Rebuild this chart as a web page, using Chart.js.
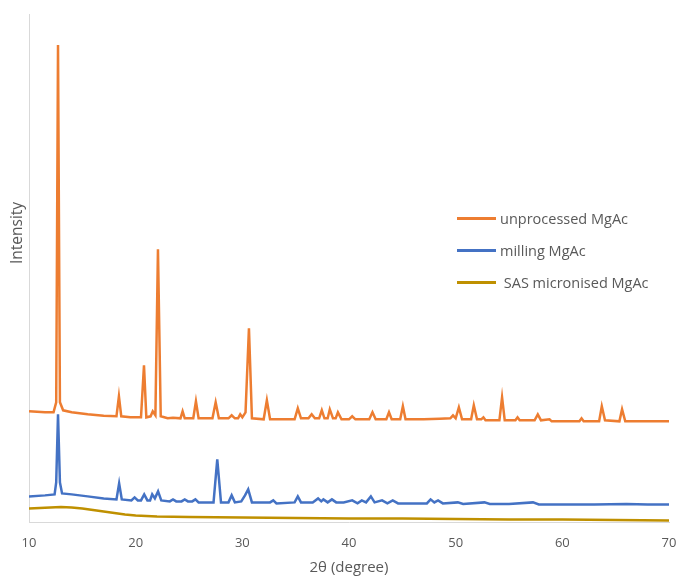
<!DOCTYPE html>
<html>
<head>
<meta charset="utf-8">
<script src="https://cdn.jsdelivr.net/npm/chart.js"></script>
<style>
  body { margin: 0; background: #ffffff; }
  #wrap { position: relative; width: 678px; height: 577px; }
  #legend { position: absolute; left: 457px; top: 202px; font-family: "Open Sans", sans-serif; font-size: 14.5px; color: #595959; }
  #legend .row { display: flex; align-items: center; height: 32px; }
  #legend .swatch { width: 39px; height: 3px; margin-right: 4px; }
</style>
</head>
<body>
<div id="wrap">
  <canvas id="chart"></canvas>
  <div id="legend"></div>
</div>
<script>
// 2theta positions and intensities (arbitrary units)
const unprocessedX = [10.0, 11.5, 12.3, 12.55, 12.72, 12.9, 13.2, 14.0, 15.5, 17.0, 18.2, 18.43, 18.65, 19.5, 20.5, 20.78, 21.0, 21.4, 21.6, 21.85, 22.09, 22.35, 23.0, 23.5, 24.2, 24.4, 24.6, 25.4, 25.65, 25.9, 27.2, 27.5, 27.8, 28.7, 29.0, 29.3, 29.6, 29.8, 30.0, 30.3, 30.62, 30.9, 32.0, 32.3, 32.6, 34.9, 35.2, 35.5, 36.2, 36.5, 36.8, 37.2, 37.45, 37.7, 38.0, 38.2, 38.5, 38.75, 38.96, 39.3, 40.0, 40.3, 40.6, 41.9, 42.2, 42.5, 43.5, 43.75, 44.0, 44.8, 45.05, 45.3, 47.0, 48.5, 49.5, 49.75, 50.0, 50.3, 50.6, 51.45, 51.7, 52.0, 52.4, 52.6, 52.8, 54.1, 54.35, 54.6, 55.6, 55.8, 56.0, 57.4, 57.7, 58.0, 58.8, 59.0, 61.6, 61.8, 62.0, 63.45, 63.7, 64.0, 65.35, 65.6, 65.9, 70.0];
const unprocessedY = [111, 110, 110, 120, 477, 120, 112, 110, 108, 106.5, 106, 126, 106, 105, 105, 157, 105, 106, 111, 107, 273, 106, 104, 104.5, 104, 111, 104, 104, 121, 104, 104, 120, 104, 104, 107, 104, 104, 108, 105, 110, 194, 104, 103, 122, 103, 103, 114, 104, 104, 108, 104, 104, 112, 104, 104, 113, 104, 104, 110, 103, 103, 106, 103, 103, 110, 103, 103, 110, 103, 103, 116, 103, 103, 103.5, 104, 107, 104, 115, 103, 103, 117, 103, 103, 105, 102, 102, 125, 102, 102, 105, 102, 102, 108, 102, 103, 101, 101, 104, 101, 101, 116, 102, 101, 113, 101, 101];

const millingX = [10.0, 11.5, 12.4, 12.55, 12.72, 12.9, 13.1, 14.0, 15.5, 17.0, 18.2, 18.45, 18.7, 19.6, 19.9, 20.2, 20.5, 20.8, 21.1, 21.35, 21.55, 21.8, 22.1, 22.4, 23.2, 23.5, 23.8, 24.3, 24.6, 24.9, 25.3, 25.6, 25.9, 27.3, 27.65, 28.0, 28.7, 29.0, 29.3, 29.9, 30.25, 30.55, 30.9, 32.6, 32.9, 33.2, 34.9, 35.2, 35.5, 36.6, 37.1, 37.4, 37.6, 38.0, 38.4, 38.8, 39.5, 40.3, 40.8, 41.2, 41.6, 42.05, 42.4, 43.1, 43.6, 44.1, 44.6, 46.0, 47.3, 47.65, 48.0, 48.35, 48.8, 50.2, 50.7, 52.7, 53.2, 55.0, 57.25, 57.8, 60.0, 63.0, 66.0, 68.0, 70.0];
const millingY = [26, 27, 28, 40, 108, 40, 29, 28, 26, 24, 23, 39, 23, 22, 25, 22, 22, 28, 22, 22, 28, 24, 31, 22, 21, 23, 21, 21, 23, 21, 21, 23, 20, 20, 63, 20, 20, 27, 20, 21, 27, 33, 20, 20, 22, 19, 20, 26, 20, 20, 24, 21, 23, 20, 23, 20, 20, 22, 19, 22, 20, 26, 20, 22, 19, 22, 19, 19, 19, 23, 20, 22, 19, 20, 18.5, 20, 18.5, 18.5, 20, 18, 18, 18, 18.5, 18, 18];

const sasX = [10, 11, 12, 13, 14, 15, 16, 17, 18, 19, 20, 22, 25, 30, 35, 40, 45, 50, 55, 60, 65, 70];
const sasY = [14, 14.5, 15, 15.5, 15, 14, 12.5, 11, 9.5, 8, 7, 6, 5.5, 5, 4.5, 4, 4, 3.5, 3, 3, 2.5, 2];

const seriesNames = ['unprocessed MgAc', 'milling MgAc', ' SAS micronised MgAc'];
const seriesColors = ['#ED7D31', '#4472C4', '#BF9000'];

function toPoints(xs, ys) {
    let pts = []
    xs.forEach((x, i) => pts.push({x: x, y: ys[i]}))
    return pts
}

const yTitle = {
    id: 'yTitle',
    afterDraw(chart) {
        const ctx = chart.ctx
        ctx.save()
        ctx.translate(18, 233)
        ctx.rotate(-Math.PI / 2)
        ctx.font = '15.5px "Open Sans"'
        ctx.fillStyle = '#595959'
        ctx.textAlign = 'center'
        ctx.textBaseline = 'middle'
        ctx.fillText('Intensity', 0, 0)
        ctx.restore()
    }
}

const allX = [unprocessedX, millingX, sasX]
const allY = [unprocessedY, millingY, sasY]
let datasets = []
for (let i = 0; i < 3; i++) {
    datasets.push({
        label: seriesNames[i],
        data: toPoints(allX[i], allY[i]),
        borderColor: seriesColors[i],
        borderWidth: 2.5,
        pointRadius: 0,
        tension: 0,
        fill: false
    })
}

const chart = new Chart(document.getElementById('chart'), {
    type: 'line',
    data: { datasets: datasets },
    options: {
        responsive: true,
        maintainAspectRatio: false,
        animation: false,
        layout: { padding: { left: 29, right: 9, top: 14, bottom: 0 } },
        scales: {
            x: {
                type: 'linear',
                min: 10,
                max: 70,
                // let the "70" label hang over the right edge like the original
                afterFit: scale => { scale.paddingRight = 0 },
                ticks: {
                    stepSize: 10,
                    color: '#595959',
                    font: { family: 'Open Sans', size: 13 },
                    padding: 13
                },
                grid: { display: false, drawTicks: false },
                border: { color: '#D9D9D9', width: 1 },
                title: {
                    display: true,
                    text: '2θ (degree)',
                    color: '#595959',
                    font: { family: 'Open Sans', size: 15 },
                    padding: { top: -5, bottom: 0 }
                }
            },
            y: {
                min: 0,
                max: 508,
                ticks: { display: false },
                grid: { display: false, drawTicks: false },
                border: { color: '#D9D9D9', width: 1 }
            }
        },
        plugins: {
            legend: { display: false },
            tooltip: { enabled: false }
        }
    },
    plugins: [yTitle]
})

const legendBox = document.getElementById('legend')
chart.data.datasets.forEach(ds => {
    const row = document.createElement('div')
    row.className = 'row'
    const sw = document.createElement('span')
    sw.className = 'swatch'
    sw.style.background = ds.borderColor
    const txt = document.createElement('span')
    txt.textContent = ds.label
    txt.style.whiteSpace = 'pre'
    row.appendChild(sw)
    row.appendChild(txt)
    legendBox.appendChild(row)
})
</script>
</body>
</html>
